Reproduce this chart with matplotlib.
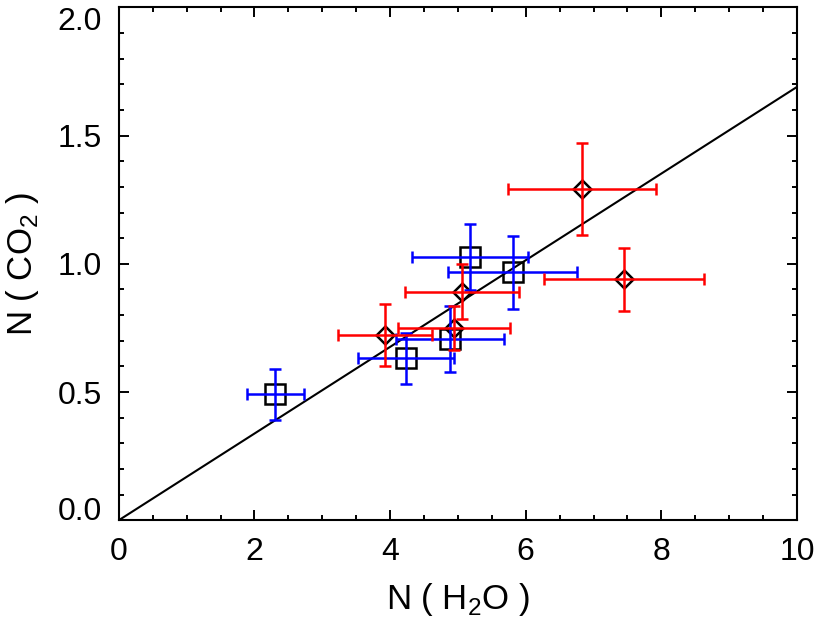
import matplotlib
matplotlib.use('Agg')
import matplotlib.pyplot as plt
from matplotlib.ticker import MultipleLocator, FormatStrFormatter

plt.rcParams['font.family'] = ['Liberation Sans', 'DejaVu Sans']
plt.rcParams['mathtext.fontset'] = 'custom'
plt.rcParams['mathtext.rm'] = 'Liberation Sans'

# blue squares
sq_x = [2.31, 4.235, 4.885, 5.18, 5.81]
sq_y = [0.491, 0.632, 0.707, 1.027, 0.967]
sq_xerr = [0.42, 0.71, 0.80, 0.85, 0.95]
sq_yerr = [0.10, 0.10, 0.13, 0.128, 0.143]

# red diamonds
dm_x = [3.925, 4.94, 5.06, 6.83, 7.45]
dm_y = [0.723, 0.749, 0.892, 1.293, 0.939]
dm_xerr = [0.69, 0.83, 0.84, 1.09, 1.18]
dm_yerr = [0.12, 0.085, 0.107, 0.18, 0.124]

# fitted line
fit_x = [0, 10]
fit_y = [0, 1.69]

fig = plt.figure(figsize=(8.31, 6.23), dpi=100)
ax = fig.add_axes([0.143, 0.165, 0.816, 0.823])

ax.plot(fit_x, fit_y, color='black', lw=1.5, zorder=1)

ax.plot(sq_x, sq_y, ls='none', marker='s', ms=14.5, mfc='none', mec='black', mew=1.8, zorder=2)
ax.plot(dm_x, dm_y, ls='none', marker='D', ms=9.5, mfc='none', mec='black', mew=1.8, zorder=2)

ax.errorbar(sq_x, sq_y, xerr=sq_xerr, yerr=sq_yerr, fmt='none', ecolor='blue',
            elinewidth=1.8, capsize=4, capthick=1.8, zorder=3)
ax.errorbar(dm_x, dm_y, xerr=dm_xerr, yerr=dm_yerr, fmt='none', ecolor='red',
            elinewidth=1.8, capsize=4, capthick=1.8, zorder=3)

ax.set_xlim(0, 10)
ax.set_ylim(0, 2.0)
ax.xaxis.set_major_locator(MultipleLocator(2))
ax.xaxis.set_minor_locator(MultipleLocator(0.5))
ax.yaxis.set_major_locator(MultipleLocator(0.5))
ax.yaxis.set_minor_locator(MultipleLocator(0.1))
ax.yaxis.set_major_formatter(FormatStrFormatter('%.1f'))

ax.tick_params(which='both', direction='in', top=True, right=True, width=1.4, labelsize=23, pad=12)
ax.tick_params(which='major', length=7.5)
ax.tick_params(which='minor', length=3.8)
for s in ax.spines.values():
    s.set_linewidth(1.5)

ax.set_xlabel('N ( H$_2$O )', fontsize=25, labelpad=10)
ax.set_ylabel('N ( CO$_2$ )', fontsize=25, labelpad=12)

# keep end labels inside the frame like the original
fig.canvas.draw()
for t in ax.yaxis.get_major_ticks():
    v = t.get_loc()
    if abs(v) < 1e-9:
        t.label1.set_va('baseline')
    elif abs(v - 2.0) < 1e-9:
        t.label1.set_va('top')

fig.savefig('out.png', dpi=100)
